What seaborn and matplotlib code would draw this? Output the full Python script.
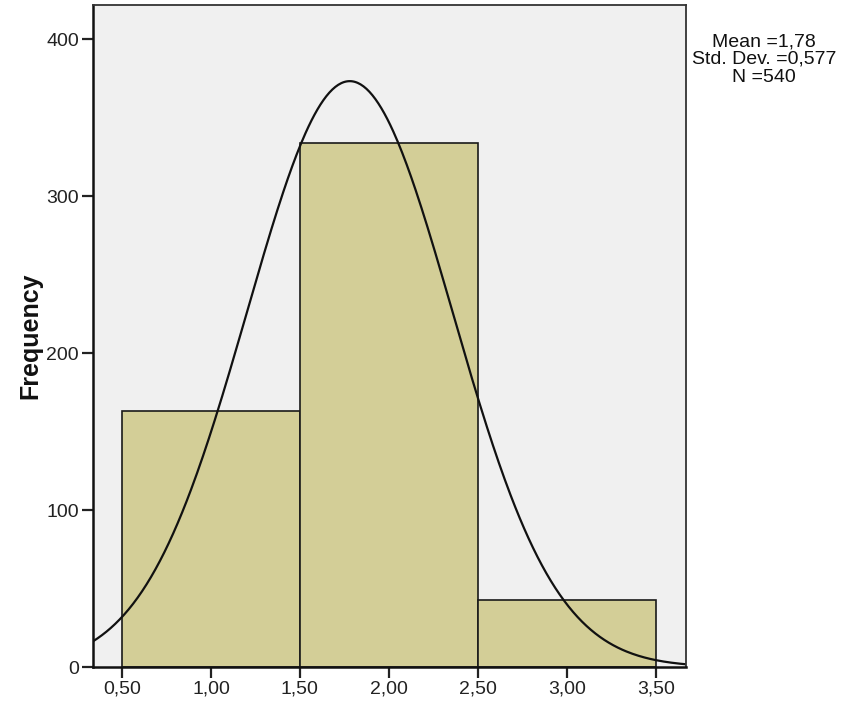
import numpy as np
import pandas as pd
import matplotlib
matplotlib.use("Agg")
import matplotlib.pyplot as plt
import seaborn as sns

# Data
bin_edges = [0.5, 1.5, 2.5, 3.5]
bin_centers = [1.0, 2.0, 3.0]
counts = [163, 334, 43]
mean_val = 1.78
std_val = 0.577
n_val = 540
x_ticks = [0.5, 1.0, 1.5, 2.0, 2.5, 3.0, 3.5]
x_tick_labels = ["0,50", "1,00", "1,50", "2,00", "2,50", "3,00", "3,50"]
y_ticks = [0, 100, 200, 300, 400]
y_tick_labels = ["0", "100", "200", "300", "400"]

sns.set_theme(style="white")
plt.rcParams['font.family'] = ['Liberation Sans', 'DejaVu Sans']

fig = plt.figure(figsize=(8.45, 7.09), dpi=100)
ax = fig.add_axes([0.110, 0.0592, 0.702, 0.934])
ax.set_facecolor("#F0F0F0")

df = pd.DataFrame({"value": bin_centers, "count": counts})
sns.histplot(data=df, x="value", weights="count", bins=bin_edges, ax=ax,
             color="#D3CE97", alpha=1.0, edgecolor="#1a1a1a", linewidth=1.2)

xlo, xhi = 0.337, 3.67
xs = np.linspace(xlo, xhi, 400)
bw = bin_edges[1] - bin_edges[0]
ys = n_val * bw / (std_val * np.sqrt(2 * np.pi)) * np.exp(-0.5 * ((xs - mean_val) / std_val) ** 2)
sns.lineplot(x=xs, y=ys, ax=ax, color="#111111", linewidth=1.6)

ax.set_xlim(xlo, xhi)
ax.set_ylim(0, 422)
ax.set_xticks(x_ticks)
ax.set_xticklabels(x_tick_labels, fontsize=14, color="#222222")
ax.set_yticks(y_ticks)
ax.set_yticklabels(y_tick_labels, fontsize=14, color="#222222")
ax.tick_params(axis="both", direction="out", length=8, width=1.6, color="#222222",
               bottom=True, left=True, pad=2)
ax.set_xlabel("")
ax.set_ylabel("Frequency", fontsize=18, fontweight="bold", color="#111111", labelpad=3)

for s in ax.spines.values():
    s.set_visible(True)
    s.set_color("#333333")
    s.set_linewidth(1.3)
ax.spines["left"].set_linewidth(1.8)
ax.spines["bottom"].set_linewidth(1.8)
ax.spines["left"].set_color("#111111")
ax.spines["bottom"].set_color("#111111")

fig.text(0.904, 0.953, "Mean =1,78\nStd. Dev. =0,577\nN =540", ha="center", va="top",
         fontsize=14, color="#111111", linespacing=1.05)

fig.savefig("out.png", dpi=100, facecolor="white")
